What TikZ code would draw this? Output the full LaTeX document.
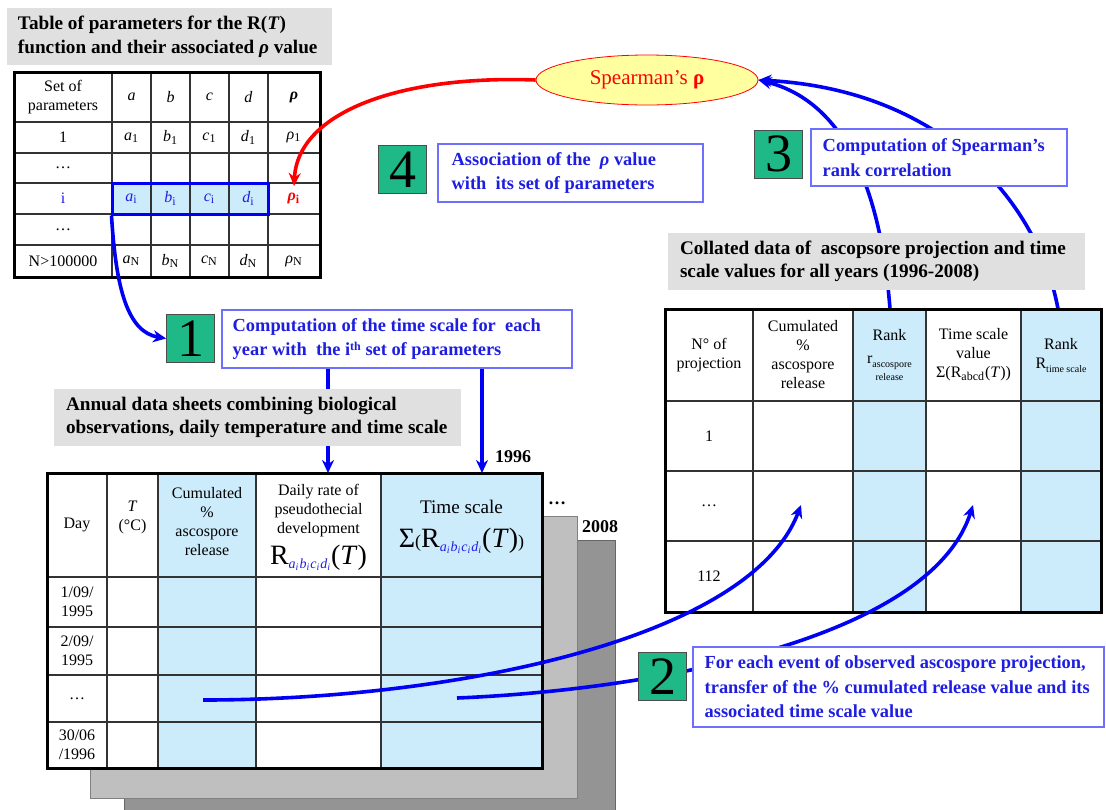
\documentclass[tikz,border=0pt]{standalone}
\usepackage{fontspec}
\setmainfont{Liberation Serif}
\usetikzlibrary{shapes.geometric,arrows.meta}
\definecolor{stepgreen}{RGB}{30,185,135}
\definecolor{cellblue}{RGB}{204,236,252}
\definecolor{boxgray}{RGB}{224,224,224}
\definecolor{txtblue}{RGB}{30,30,225}
\definecolor{edgeblue}{RGB}{110,110,255}
\definecolor{flowblue}{RGB}{0,0,245}
\definecolor{spyellow}{RGB}{255,255,160}
\newcommand{\abcdi}{\raisebox{-2pt}{\color{txtblue}\fontsize{7}{7}\selectfont\textit{a\textsubscript{i}b\textsubscript{i}c\textsubscript{i}d\textsubscript{i}}}}
\newcommand{\bigtxt}[1]{{\fontsize{14}{14}\selectfont #1}}

\begin{document}
\begin{tikzpicture}[x=0.5pt, y=-0.5pt, font=\fontsize{8}{9.5}\selectfont,
  gridline/.style={draw=black!80, line width=0.7pt},
  frame/.style={draw=black, line width=1.5pt},
  graybox/.style={fill=boxgray, inner sep=0},
  graytext/.style={font=\fontsize{9.6}{11.8}\selectfont\bfseries, align=left, inner sep=0, anchor=west},
  stepbox/.style={draw=edgeblue, fill=white, line width=0.7pt, inner sep=0},
  steptext/.style={text=txtblue, font=\fontsize{9.2}{12.3}\selectfont\bfseries, align=left, inner sep=0, anchor=west},
  stepnum/.style={draw=black!70, fill=stepgreen, minimum size=24pt, inner sep=0, font=\fontsize{27}{27}\selectfont},
  flow/.style={draw=flowblue, line width=1.8pt, -{Stealth[length=6.5pt,width=6pt]}},
]
\useasboundingbox (0,0) rectangle (1106,809);

% parameter table
\node[graybox, minimum width=162.5pt, minimum height=28.5pt] (partitle) at (169.5,36.5) {};
\node[graytext] (partitle-txt) at ([xshift=5.5pt]partitle.west) {Table of parameters for the R(\textit{T})\\function and their associated \textit{ρ} value};
\fill[cellblue] (112,183) rectangle (268,214);
\foreach \x in {112,151,190,229,268} \draw[gridline] (\x,72) -- (\x,277);
\foreach \y in {122,153,183,214,245} \draw[gridline] (14,\y) -- (320,\y);
\draw[frame] (14,72) rectangle (320,277);
\node[align=center] (ph-set) at (63,97) {Set of\\parameters};
\node (p1-set) at (63,137.5) {1};
\node (p2-set) at (63,168) {…};
\node[text=txtblue] (pi-set) at (63,198.5) {i};
\node (p3-set) at (63,229.5) {…};
\node (pN-set) at (63,261) {N>100000};
\foreach \l/\x in {a/131.5,b/170.5,c/209.5,d/248.5} {
  \node (ph-\l) at (\x,97) {\textit{\l}};
  \node (p1-\l) at (\x,137.5) {\textit{\l}\textsubscript{1}};
  \node[text=txtblue] (pi-\l) at (\x,198.5) {\textit{\l}\textsubscript{i}};
  \node (pN-\l) at (\x,261) {\textit{\l}\textsubscript{N}};
}
\node (ph-rho) at (294,97) {\textbf{\textit{ρ}}};
\node (p1-rho) at (294,137.5) {\textit{ρ}\textsubscript{1}};
\node[text=red, font=\fontsize{8}{9.5}\selectfont\bfseries] (rhoi) at (294,198.5) {\textit{ρ}\textsubscript{i}};
\node (pN-rho) at (294,261) {\textit{ρ}\textsubscript{N}};
\node[draw=flowblue, line width=1.5pt, minimum width=78pt, minimum height=15.5pt, inner sep=0] (rowi) at (190,198.5) {};

% Spearman
\node[ellipse, draw=red, fill=spyellow, text=red, minimum width=111pt, minimum height=25pt, inner sep=0, font=\fontsize{10.5}{12}\selectfont] (spear) at (647,80) {Spearman’s \textbf{ρ}};
\draw[draw=red, line width=1.8pt, -{Stealth[length=6.5pt,width=6pt]}] (spear.west) .. controls (400,75) and (298,112) .. (rhoi.north);

% step 4
\node[stepnum] (n4) at (402.5,169.5) {4};
\node[stepbox, minimum width=132.5pt, minimum height=29pt] (s4) at (570.5,173) {};
\node[steptext] (s4-txt) at ([xshift=7pt]s4.west) {Association of the \ \textit{ρ} value\\with \ its set of parameters};

% collated table
\coordinate (rk1) at (890,309);
\coordinate (rk2) at (1058,309);
\draw[flow] (rk1) .. controls (880,180) and (840,100) .. (spear.east);
\draw[flow] (rk2) .. controls (1040,210) and (950,90) .. (spear.east);
\node[stepnum] (n3) at (778.5,154) {3};
\node[stepbox, minimum width=128pt, minimum height=28.5pt] (s3) at (939,157.5) {};
\node[steptext] (s3-txt) at ([xshift=6pt]s3.west) {Computation of Spearman’s\\rank correlation};
\node[graybox, minimum width=208.5pt, minimum height=28.5pt] (coltitle) at (876.5,261.5) {};
\node[graytext] (coltitle-txt) at ([xshift=6pt]coltitle.west) {Collated data of \ ascopsore projection and time\\scale values for all years (1996-2008)};
\fill[cellblue] (853,309) rectangle (926,612);
\fill[cellblue] (1021,309) rectangle (1101,612);
\foreach \x in {753,853,926,1021} \draw[gridline] (\x,309) -- (\x,612);
\foreach \y in {401,471,541} \draw[gridline] (665,\y) -- (1101,\y);
\draw[frame] (665,309) rectangle (1101,612);
\node[align=center] (ch-num) at (709,355) {N° of\\projection};
\node[align=center] (ch-cum) at (803,355) {Cumulated\\\%\\ascospore\\release};
\node[align=center] (ch-rk1) at (889.5,355) {Rank\\[2pt]r\raisebox{-2pt}{\fontsize{5}{5}\selectfont ascospore}\\[-1pt]{\fontsize{5}{5}\selectfont release}};
\node[align=center] (ch-ts) at (973.5,355) {Time scale\\value\\Σ(R\textsubscript{abcd}(\textit{T}))};
\node[align=center] (ch-rk2) at (1061,355) {Rank\\R\raisebox{-2pt}{\fontsize{5}{5}\selectfont time scale}};
\node (c1-num) at (709,436) {1};
\node (c2-num) at (709,506) {…};
\node (c3-num) at (709,576.5) {112};
\coordinate (rA) at (801,505);
\coordinate (rB) at (973,505);

% annual data sheets
\draw[draw=black!60, fill=black!42] (124,540) rectangle (615,815);
\draw[draw=black!50, fill=black!25] (90,516) rectangle (577,798);
\node[font=\fontsize{9}{9}\selectfont\bfseries] (dots) at (557,503) {…};
\node[font=\fontsize{9}{9}\selectfont\bfseries] (y2008) at (600,527) {2008};
\fill[white] (47,473) rectangle (542,768);
\fill[cellblue] (158,473) rectangle (256,768);
\fill[cellblue] (381,473) rectangle (542,768);
\foreach \x in {107,158,256,381} \draw[gridline] (\x,473) -- (\x,768);
\foreach \y in {577,627,675,722} \draw[gridline] (47,\y) -- (542,\y);
\draw[frame] (47,473) rectangle (542,768);
\node (dh-day) at (77,525) {Day};
\node[align=center] (dh-t) at (132.5,517) {\textit{T}\\(°C)};
\node[align=center] (dh-cum) at (207,522) {Cumulated\\\%\\ascospore\\release};
\node[align=center] (dh-rate) at (318.5,527) {Daily rate of\\pseudothecial\\development\\[3pt]\bigtxt{R}\abcdi\bigtxt{(\textit{T})}};
\node[align=center] (dh-ts) at (461.5,527) {{\fontsize{9.6}{12}\selectfont Time scale}\\[6pt]\bigtxt{Σ}{\fontsize{9}{9}\selectfont(}\bigtxt{R}\abcdi\bigtxt{(\textit{T})}{\fontsize{9}{9}\selectfont)}};
\node[align=center] (d1-day) at (77,602) {1/09/\\1995};
\node[align=center] (d2-day) at (77,651) {2/09/\\1995};
\node (d3-day) at (77,698.5) {…};
\node[align=center] (d4-day) at (77,745) {30/06\\/1996};
\coordinate (dA) at (203,700);
\coordinate (dB) at (457,698);
\coordinate (tdaily) at (328,473);
\coordinate (ttime) at (482,473);
\node[font=\fontsize{9}{9}\selectfont\bfseries, anchor=west] (y1996) at (488,457) {1996};

% step 1
\node[stepnum] (n1) at (190.5,338.5) {1};
\node[stepbox, minimum width=175pt, minimum height=29pt] (s1) at (397,339) {};
\node[steptext] (s1-txt) at ([xshift=5.5pt]s1.west) {Computation of the time scale for \ each\\year with \ the i{\fontsize{6}{6}\selectfont\raisebox{2.5pt}{th}} set of parameters};
\draw[flow] ([xshift=0.5pt]rowi.south west) .. controls (116,290) and (128,332) .. (n1.west);
\draw[flow] (s1.south -| tdaily) -- (tdaily);
\draw[flow] (s1.south -| ttime) -- (ttime);
\node[graybox, minimum width=203.5pt, minimum height=28.5pt] (annual) at (257.5,417.5) {};
\node[graytext] (annual-txt) at ([xshift=6pt]annual.west) {Annual data sheets combining biological\\observations, daily temperature and time scale};

% step 2
\draw[flow] (dA) .. controls (450,700) and (750,640) .. (rA);
\draw[flow] (dB) .. controls (650,690) and (930,640) .. (rB);
\node[stepnum] (n2) at (662.5,676.5) {2};
\node[stepbox, minimum width=205.5pt, minimum height=40pt] (s2) at (898.5,687) {};
\node[steptext] (s2-txt) at ([xshift=6pt]s2.west) {For each event of observed ascospore projection,\\transfer of the \% cumulated release value and its\\associated time scale value};
\end{tikzpicture}
\end{document}
